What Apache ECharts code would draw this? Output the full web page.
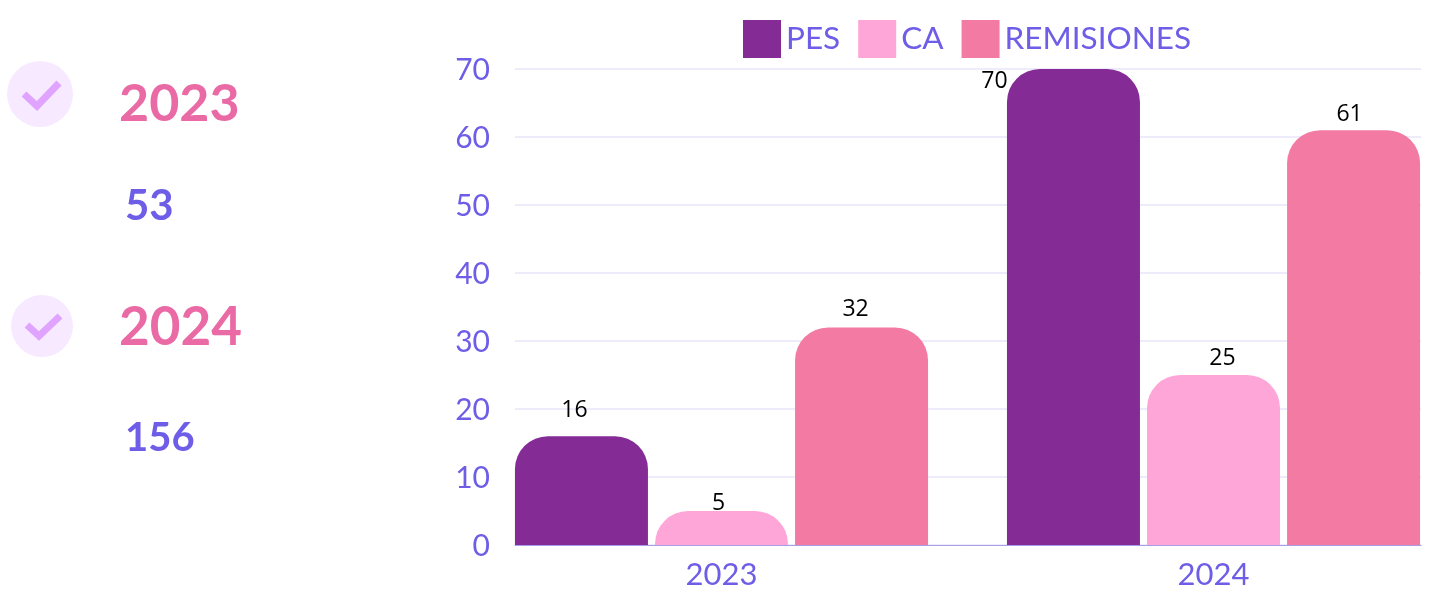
<!DOCTYPE html>
<html>
<head>
<meta charset="utf-8">
<style>
  html, body { margin: 0; padding: 0; background: #fff; }
  #chart { width: 1433px; height: 593px; }
</style>
<script src="https://cdn.jsdelivr.net/npm/echarts@6/dist/echarts.min.js"></script>
</head>
<body>
<div id="chart"></div>
<script>
const years = ['2023', '2024']
const pes = [16, 70]
const ca = [5, 25]
const remisiones = [32, 61]
const yearTotals = ['53', '156']
const yTicks = [0, 10, 20, 30, 40, 50, 60, 70]

const PURPLE = '#6e5de7'
const PINK = '#ea6aa5'
const FONT = 'Lato'

// the labels sit at odd places in the original, nudged by hand
const pesLabelOffset = [[-7, -9], [-79, 29]]
const caLabelOffset = [[-3, 9], [9, 0]]
const remLabelOffset = [[-6, -1], [-4, 1]]

const chart = echarts.init(document.getElementById('chart'))

const makeSeries = (name, values, color, offsets) => ({
  name,
  type: 'bar',
  barWidth: 133,
  barGap: '5.3%',
  itemStyle: { color, borderRadius: [33, 33, 0, 0] },
  label: {
    show: true,
    position: 'top',
    color: '#000',
    fontFamily: 'Open Sans',
    fontSize: 23
  },
  data: values.map((v, i) => ({ value: [i, v], label: { offset: offsets[i] } }))
})

const checkBadge = (cx, cy, r, points) => [
  { type: 'circle', shape: { cx, cy, r }, style: { fill: '#f7e9ff' } },
  {
    type: 'polyline',
    shape: { points },
    style: { stroke: '#e0a3ff', lineWidth: 7, fill: null }
  }
]

const sideText = (x, y, text, size, color) => ({
  type: 'text',
  x,
  y,
  style: { text, fontFamily: FONT, fontWeight: 'bold', fontSize: size, fill: color, textVerticalAlign: 'middle' }
})

chart.setOption({
  animation: false,
  legend: {
    left: 738,
    top: 15,
    icon: 'rect',
    itemWidth: 38,
    itemHeight: 38,
    itemGap: 18,
    textStyle: { color: PURPLE, fontFamily: FONT, fontSize: 31.5 }
  },
  grid: { left: 515, right: 12, top: 69, bottom: 48 },
  xAxis: {
    type: 'value',
    min: -0.4197,
    max: 1.4217,
    splitLine: { show: false },
    axisTick: { show: false },
    axisLine: { show: true, lineStyle: { color: '#a89ee8', width: 1 } },
    axisLabel: {
      customValues: [0, 1],
      formatter: v => years[v],
      color: PURPLE,
      fontFamily: FONT,
      fontSize: 31,
      margin: 14
    }
  },
  yAxis: {
    type: 'value',
    min: yTicks[0],
    max: yTicks[yTicks.length - 1],
    interval: 10,
    axisLine: { show: false },
    axisTick: { show: false },
    splitLine: { lineStyle: { color: '#eeecfa', width: 2 } },
    // tiny line box hung from the tick, pushes the digits about 2px down
    axisLabel: { color: PURPLE, fontFamily: FONT, fontSize: 30, margin: 25, verticalAlign: 'top', lineHeight: 3 }
  },
  series: [
    makeSeries('PES', pes, '#842b96', pesLabelOffset),
    makeSeries('CA', ca, '#ffa6d9', caLabelOffset),
    makeSeries('REMISIONES', remisiones, '#f37ba3', remLabelOffset)
  ],
  graphic: [
    ...checkBadge(40, 94, 33, [[24, 94], [37, 106], [59, 83]]),
    ...checkBadge(42, 326, 31, [[27, 325], [39, 336], [60, 316]]),
    sideText(119, 104, years[0], 52, PINK),
    sideText(125, 206, yearTotals[0], 42, PURPLE),
    sideText(119, 328, years[1], 53, PINK),
    sideText(125, 438, yearTotals[1], 40, PURPLE)
  ]
})
</script>
</body>
</html>
